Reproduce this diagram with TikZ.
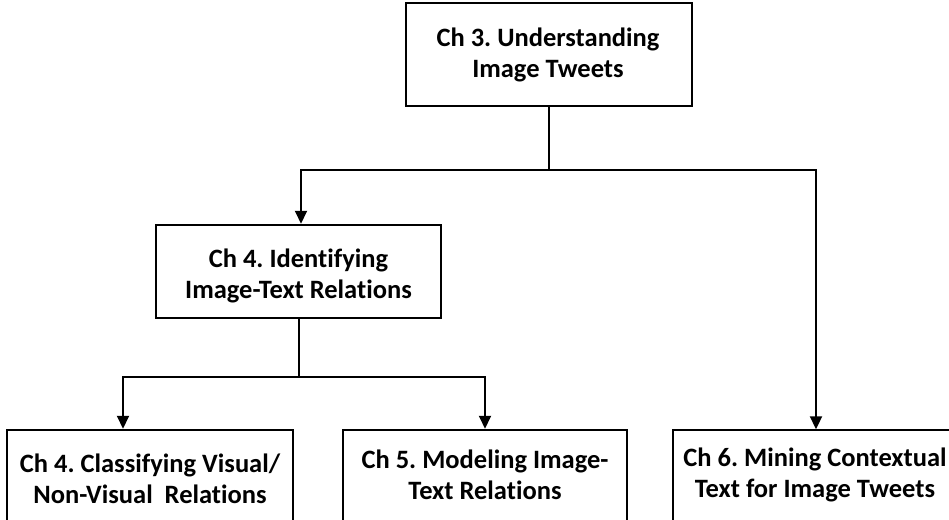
\documentclass[tikz,border=0pt]{standalone}
\usepackage{fontspec}
\setmainfont{Carlito}[Ligatures=NoCommon]
\usetikzlibrary{arrows.meta}
\frenchspacing
\tikzset{
  box/.style={draw=black, line width=1.5pt, fill=white, inner sep=0pt},
  lbl/.style={align=center, inner sep=0pt, anchor=base,
    font=\bfseries\fontsize{26.5}{30.5}\selectfont, text=black},
  conn/.style={draw=black, line width=2pt},
  arr/.style={conn, -{Triangle[length=13pt,width=12pt]}, shorten >=0.5pt}
}
\begin{document}
\begin{tikzpicture}[x=1pt,y=-1pt]
\useasboundingbox (0,0) rectangle (949,519);
\clip (0,0) rectangle (949,519);
\fill[white] (0,0) rectangle (949,519);
\node[box, minimum width=286pt, minimum height=103pt] (top) at (549,54.5) {};
\node[box, minimum width=285pt, minimum height=93pt] (ch4) at (298.5,271.5) {};
\node[box, minimum width=286pt, minimum height=93pt] (ch4c) at (150,476.5) {};
\node[box, minimum width=284pt, minimum height=93pt] (ch5) at (485,476.5) {};
\node[draw=none, inner sep=0pt, minimum width=286pt, minimum height=93pt] (ch6) at (816,476.5) {};
\draw[line width=1.5pt] ([yshift=-20pt]ch6.south west) -- (ch6.north west) -- ([xshift=30pt]ch6.north east);
\node[lbl] (t3) at (548,77) {Ch 3. Understanding\\Image Tweets};
\node[lbl] (t4) at (298.5,298) {Ch 4. Identifying\\Image-Text Relations};
\node[lbl] (t4c) at (150,503) {Ch 4. Classifying Visual/\\Non-Visual~ Relations};
\node[lbl] (t5) at (485,499) {Ch 5. Modeling Image-\\Text Relations};
\node[lbl] (t6) at (815,497) {Ch 6. Mining Contextual\\Text for Image Tweets};
\coordinate (j1) at (549,170);
\coordinate (j2) at (298.5,377);
\draw[conn] (top.south) -- (j1);
\draw[arr] (j1) -| ([xshift=2.5pt]ch4.north);
\draw[arr] (j1) -| (ch6.north);
\draw[conn] (ch4.south) -- (j2);
\draw[arr] (j2) -| ([xshift=-27pt]ch4c.north);
\draw[arr] (j2) -| (ch5.north);
\end{tikzpicture}
\end{document}
